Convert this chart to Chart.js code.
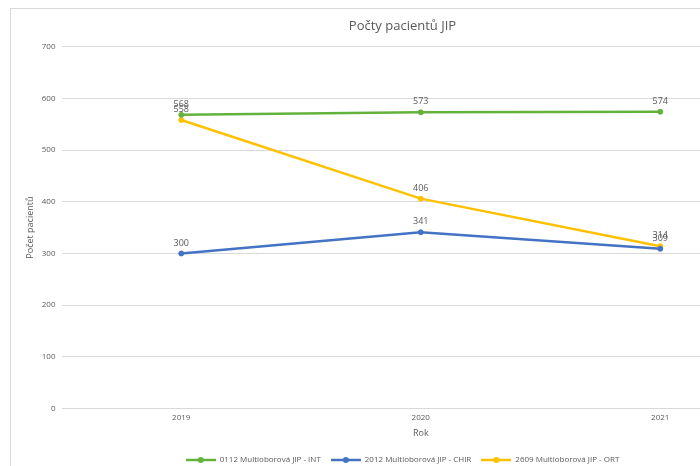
<!DOCTYPE html>
<html lang="cs">
<head>
<meta charset="utf-8">
<script src="https://cdn.jsdelivr.net/npm/chart.js@4/dist/chart.umd.min.js"></script>
<style>
  html, body { margin: 0; padding: 0; background: #fff; overflow: hidden; width: 700px; height: 466px; }
  .ramecek { position: absolute; left: 10px; top: 8px; width: 790px; height: 470px; border: 1px solid #d9d9d9; box-sizing: border-box; }
  .platno { position: absolute; left: 11px; top: 9px; width: 789px; height: 465px; }
</style>
</head>
<body>
<div class="ramecek"></div>
<div class="platno"><canvas id="graf"></canvas></div>
<script>
const roky = ['2019', '2020', '2021']
const jipInt = [568, 573, 574]
const jipChir = [300, 341, 309]
const jipOrt = [558, 406, 314]
const nazvy = ['0112 Multioborová JIP - INT', '2012 Multioborová JIP - CHIR', '2609 Multioborová JIP - ORT']
const barvy = ['#62b23c', '#4472c4', '#ffc000']

const seda = '#595959'
const pismo = "'Open Sans', 'Liberation Sans', sans-serif"

// znacka do legendy: cara s teckou uprostred
const znacka = (barva) => {
    const c = document.createElement('canvas')
    c.width = 30
    c.height = 8
    const ctx = c.getContext('2d')
    ctx.strokeStyle = barva
    ctx.lineWidth = 2.5
    ctx.beginPath()
    ctx.moveTo(0, 4)
    ctx.lineTo(30, 4)
    ctx.stroke()
    ctx.fillStyle = barva
    ctx.beginPath()
    ctx.arc(15, 4, 3, 0, Math.PI * 2)
    ctx.fill()
    return c
}

// popisky hodnot nad body
const popisky = {
    id: 'popisky',
    afterDatasetsDraw(chart) {
        const ctx = chart.ctx
        ctx.save()
        ctx.font = '9px ' + pismo
        ctx.fillStyle = seda
        ctx.textAlign = 'center'
        ctx.textBaseline = 'bottom'
        chart.data.datasets.forEach((ds, i) => {
            chart.getDatasetMeta(i).data.forEach((bod, j) => {
                ctx.fillText(ds.data[j], bod.x, bod.y - 6)
            })
        })
        ctx.restore()
    }
}

const rada = (i, data) => ({
    label: nazvy[i],
    data: data,
    borderColor: barvy[i],
    backgroundColor: barvy[i],
    borderWidth: 2.5,
    pointRadius: 2.5,
    pointBorderWidth: 1,
    pointStyle: 'circle',
    tension: 0
})

new Chart(document.querySelector('#graf'), {
    type: 'line',
    data: {
        labels: roky,
        datasets: [rada(0, jipInt), rada(1, jipChir), rada(2, jipOrt)]
    },
    options: {
        responsive: true,
        maintainAspectRatio: false,
        animation: false,
        layout: { padding: { left: 14, right: 20, top: 0, bottom: 0 } },
        plugins: {
            title: {
                display: true,
                text: 'Počty pacientů JIP',
                color: seda,
                font: { family: pismo, size: 13, weight: 'normal' },
                padding: { top: 9, bottom: 13 }
            },
            legend: {
                position: 'bottom',
                labels: {
                    usePointStyle: true,
                    pointStyleWidth: 30,
                    color: seda,
                    font: { family: pismo, size: 8 },
                    boxHeight: 8,
                    padding: 10,
                    generateLabels: (chart) => chart.data.datasets.map((ds, i) => ({
                        text: ds.label,
                        pointStyle: znacka(barvy[i]),
                        fontColor: seda,
                        datasetIndex: i,
                        lineWidth: 0,
                        strokeStyle: 'transparent',
                        fillStyle: 'transparent'
                    }))
                }
            },
            tooltip: { enabled: false }
        },
        scales: {
            x: {
                offset: true,
                grid: { display: false, drawTicks: false },
                border: { display: false },
                ticks: { color: seda, font: { family: pismo, size: 8 }, padding: 4 },
                title: {
                    display: true,
                    text: 'Rok',
                    color: seda,
                    font: { family: pismo, size: 9 },
                    padding: { top: 2, bottom: 7 }
                }
            },
            y: {
                min: 0,
                max: 700,
                ticks: { stepSize: 100, color: seda, font: { family: pismo, size: 8 }, padding: 6 },
                grid: { color: '#d9d9d9', drawTicks: false },
                border: { display: false },
                title: {
                    display: true,
                    text: 'Počet pacientů',
                    color: seda,
                    font: { family: pismo, size: 9 },
                    padding: { top: 0, bottom: 0 }
                }
            }
        }
    },
    plugins: [popisky]
})
</script>
</body>
</html>
